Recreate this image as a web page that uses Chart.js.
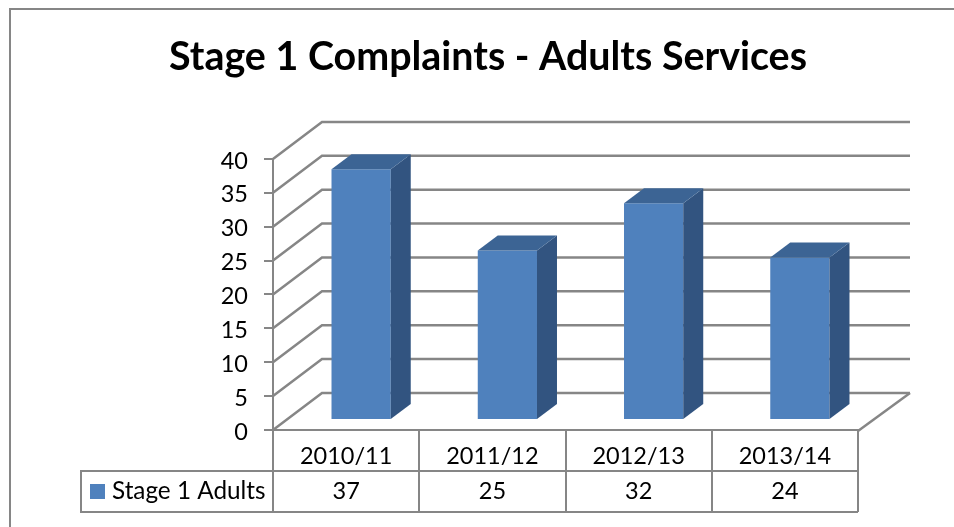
<!DOCTYPE html>
<html>
<head>
<meta charset="utf-8">
<script src="https://cdn.jsdelivr.net/npm/chart.js@4"></script>
<style>html,body{margin:0;padding:0;background:#fff}canvas{display:block}</style>
</head>
<body>
<canvas id="c" width="954" height="527"></canvas>
<script>
const titleText = 'Stage 1 Complaints - Adults Services';
const categories = ['2010/11', '2011/12', '2012/13', '2013/14'];
const seriesName = 'Stage 1 Adults';
const seriesValues = [37, 25, 32, 24];

const LINE = '#868686', FRONT = '#4f81bd', SIDE = '#325480', TOP = '#3c6494';
const FONT = 'Lato, Carlito, sans-serif';
const LW = 2.5;

const scene = {
  id: 'scene',
  afterLayout(chart) {
    const t = chart.titleBlock;
    const h = t.bottom - t.top;
    t.left = 22; t.right = 954; t.top = 34; t.bottom = 34 + h;
  },
  beforeDraw(chart) {
    const c = chart.ctx;
    c.save();
    c.strokeStyle = LINE; c.lineWidth = 2;
    c.beginPath(); c.moveTo(10, 527); c.lineTo(10, 9); c.lineTo(954, 9); c.stroke();
    c.restore();
  },
  beforeDatasetsDraw(chart) {
    const c = chart.ctx, ys = chart.scales.y, a = chart.chartArea;
    c.save();
    c.strokeStyle = LINE; c.lineWidth = LW;
    ys.ticks.forEach(t => {
      const y = ys.getPixelForValue(t.value);
      c.beginPath(); c.moveTo(a.left, y); c.lineTo(a.left + 49, y - 37); c.lineTo(a.right + 52, y - 37); c.stroke();
    });
    const y0 = ys.getPixelForValue(0);
    c.beginPath(); c.moveTo(a.right, y0 + 1); c.lineTo(a.right + 52, y0 - 37); c.stroke();
    c.restore();
  },
  beforeDatasetDraw(chart) {
    chart.ctx.save();
    chart.ctx.translate(15, -10);
  },
  afterDatasetDraw(chart, args) {
    const c = chart.ctx;
    args.meta.data.forEach(b => {
      const l = b.x - b.width / 2, r = b.x + b.width / 2, top = b.y, bot = b.base;
      c.fillStyle = SIDE;
      c.beginPath(); c.moveTo(r, top); c.lineTo(r + 20, top - 15); c.lineTo(r + 20, bot - 15); c.lineTo(r, bot); c.closePath(); c.fill();
      c.fillStyle = TOP;
      c.beginPath(); c.moveTo(l, top); c.lineTo(l + 20, top - 15); c.lineTo(r + 20, top - 15); c.lineTo(r, top); c.closePath(); c.fill();
    });
    c.restore();
  },
  afterDraw(chart) {
    const c = chart.ctx, a = chart.chartArea;
    c.save();
    c.strokeStyle = LINE; c.lineWidth = 2;
    c.beginPath();
    c.moveTo(81, 471); c.lineTo(a.right, 471);
    c.moveTo(81, 512); c.lineTo(a.right, 512);
    c.moveTo(81, 470); c.lineTo(81, 513);
    c.stroke();
    c.fillStyle = FRONT;
    c.fillRect(90, 484, 15, 15);
    c.fillStyle = '#000';
    c.font = '24.3px ' + FONT;
    c.textAlign = 'left'; c.textBaseline = 'middle';
    c.fillText(chart.data.datasets[0].label, 112, 491);
    c.restore();
  }
};

new Chart(document.getElementById('c'), {
  type: 'bar',
  plugins: [scene],
  data: {
    labels: categories,
    datasets: [{
      label: seriesName,
      data: seriesValues,
      backgroundColor: FRONT,
      borderWidth: 0,
      barPercentage: 0.405,
      categoryPercentage: 1,
      clip: false
    }]
  },
  options: {
    responsive: false,
    animation: false,
    devicePixelRatio: 1,
    layout: { padding: { left: 173, right: 96, top: 0, bottom: 0 } },
    plugins: {
      legend: { display: false },
      tooltip: { enabled: false },
      title: {
        display: true,
        text: titleText,
        color: '#000',
        font: { family: FONT, size: 39.4, weight: 'bold', lineHeight: 1.2 },
        padding: { top: 0, bottom: 111.7 }
      }
    },
    scales: {
      y: {
        min: 0, max: 40,
        afterFit(s) { s.width = 100; },
        border: { display: true, color: LINE, width: 2 },
        grid: { drawOnChartArea: false, drawTicks: true, tickLength: 9, color: LINE, lineWidth: 2 },
        ticks: { stepSize: 5, color: '#000', padding: 16, labelOffset: 2, font: { family: FONT, size: 23.5 } }
      },
      x: {
        afterFit(s) { s.height = 97; },
        border: { display: true, color: LINE, width: 2 },
        grid: { drawOnChartArea: false, drawTicks: true, tickLength: 82, color: LINE, lineWidth: 2, offset: true },
        ticks: {
          color: '#000',
          padding: -73.5,
          maxRotation: 0,
          font: { family: FONT, size: 23.5, lineHeight: 1.49 },
          callback(v, i) { return [categories[i], String(seriesValues[i])]; }
        }
      }
    }
  }
});
</script>
</body>
</html>
